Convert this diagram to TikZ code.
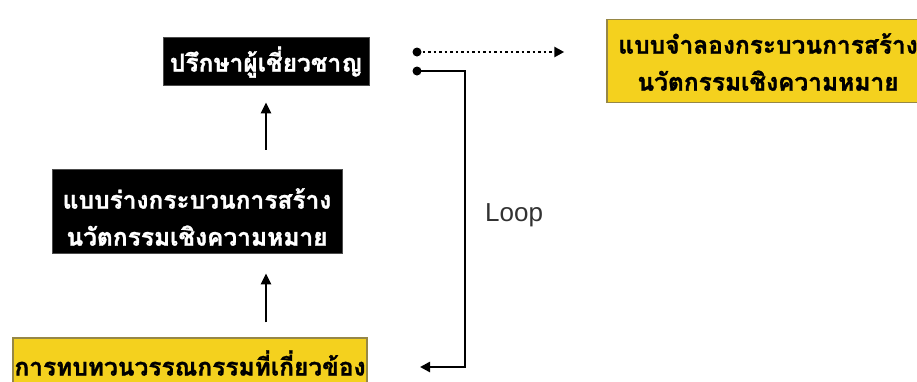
\documentclass[tikz,border=0pt]{standalone}
\usepackage{fontspec}
\setmainfont{Liberation Sans}
\newfontfamily\thaifont[Script=Thai,FakeBold=1.2]{Loma}
\usetikzlibrary{arrows.meta,calc}
\definecolor{yel}{RGB}{244,209,30}
\definecolor{yelb}{RGB}{150,135,70}
\definecolor{loopc}{RGB}{50,50,50}
\begin{document}
\begin{tikzpicture}[x=1pt,y=-1pt,
  thaitext/.style={font=\thaifont\bfseries\fontsize{24.5}{37}\selectfont, align=center, inner sep=0pt},
  blackbox/.style={fill=black, draw=black!70, line width=0.8pt, inner sep=0pt},
  yellowbox/.style={fill=yel, draw=yelb, line width=1.5pt, inner sep=0pt},
  uparrow/.style={line width=2.6pt, -{Triangle[length=11pt,width=10pt]}},
  loopline/.style={line width=2.6pt, -{Triangle[length=10pt,width=10pt]}},
  dotline/.style={line width=2.6pt, dash pattern=on 2.5pt off 3pt, -{Triangle[length=10pt,width=10pt]}},
  dotmark/.style={circle, fill=black, inner sep=0pt, minimum size=9pt}
]
\useasboundingbox (0,0) rectangle (917,381);
\fill[white] (0,0) rectangle (917,381);

\node[blackbox, minimum width=206pt, minimum height=48pt] (top) at (266,61) {};
\node[blackbox, minimum width=290pt, minimum height=84pt] (mid) at (197,211) {};
\node[yellowbox, minimum width=354pt, minimum height=60pt] (bot) at (190,368) {};
\node[yellowbox, minimum width=322pt, minimum height=83pt] (tr) at (768,61) {};

\node[thaitext, text=white] (toptxt) at ($(top.center)+(0,1)$) {ปรึกษาผู้เชี่ยวชาญ};
\node[thaitext, text=white] (midtxt) at ($(mid.center)+(0,6)$) {แบบร่างกระบวนการสร้าง\\นวัตกรรมเชิงความหมาย};
\node[thaitext, text=black] (bottxt) at (190,363) {การทบทวนวรรณกรรมที่เกี่ยวข้อง};
\node[thaitext, text=black] (trtxt) at ($(tr.center)+(0,1)$) {แบบจำลองกระบวนการสร้าง\\นวัตกรรมเชิงความหมาย};

\draw[uparrow, shorten <=19pt, shorten >=17pt] (top.south |- mid.north) -- (top.south);
\draw[uparrow, shorten <=15pt, shorten >=20pt] (top.south |- bot.north) -- (top.south |- mid.south);

\node[dotmark] (d1) at (417,52) {};
\node[dotmark] (d2) at (417,71) {};
\coordinate (c1) at (465,71);
\coordinate (c2) at (465,367);
\coordinate (loopend) at (420,367);
\draw[dotline, shorten >=42pt] (d1.center) -- (tr.west |- d1);
\draw[loopline] (d2.center) -- (c1) -- (c2) -- (loopend);
\node[font=\fontsize{26}{30}\selectfont, text=loopc, anchor=west, inner sep=0pt] (loop) at (485,215) {Loop};
\end{tikzpicture}
\end{document}
